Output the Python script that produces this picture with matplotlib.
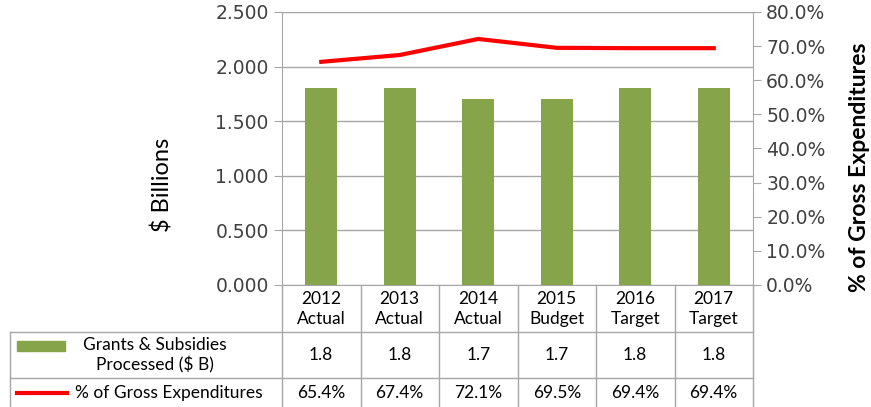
import numpy as np
import matplotlib.pyplot as plt
from matplotlib.lines import Line2D
from matplotlib.patches import Rectangle
from matplotlib.ticker import FuncFormatter, MultipleLocator
from matplotlib.transforms import blended_transform_factory

# data
years = ['2012', '2013', '2014', '2015', '2016', '2017']
kinds = ['Actual', 'Actual', 'Actual', 'Budget', 'Target', 'Target']
grants = [1.8, 1.8, 1.7, 1.7, 1.8, 1.8]
pct_gross = [65.4, 67.4, 72.1, 69.5, 69.4, 69.4]
row_labels = ['Grants & Subsidies\nProcessed ($ B)', '% of Gross Expenditures']

bar_col = '#86a44a'
line_col = '#ff0000'
grid_col = '#a6a6a6'
narrow = ['Lato', 'DejaVu Sans']

W, H = 871, 407
fig = plt.figure(figsize=(W / 100, H / 100), dpi=100)
ax = fig.add_axes([282 / W, 1 - 285 / H, (753 - 282) / W, (285 - 12) / H])

x = np.arange(len(years))
ax.bar(x, grants, width=0.41, color=bar_col, zorder=2)
ax.set_xlim(-0.5, len(years) - 0.5)
ax.set_ylim(0, 2.5)
ax.yaxis.set_major_locator(MultipleLocator(0.5))
ax.yaxis.set_major_formatter(FuncFormatter(lambda v, p: '%.3f' % v))
ax.set_xticks([])
ax.grid(axis='y', color=grid_col, lw=1, zorder=0)
for s in ax.spines.values():
    s.set_color(grid_col)
ax.tick_params(axis='y', colors=grid_col, labelcolor='#404040', labelsize=13.5, length=6)
ax.set_ylabel('$ Billions', fontsize=17, family=narrow, color='black')
ax.yaxis.set_label_coords(-0.23, 0.366)

ax2 = ax.twinx()
ax2.plot(x, pct_gross, color=line_col, lw=3, zorder=3)
ax2.set_ylim(0, 80)
ax2.yaxis.set_major_locator(MultipleLocator(10))
ax2.yaxis.set_major_formatter(FuncFormatter(lambda v, p: '%.1f%%' % v))
for s in ax2.spines.values():
    s.set_visible(False)
ax2.tick_params(axis='y', colors=grid_col, labelcolor='#404040', labelsize=13.5, length=6)
ax2.set_ylabel('% of Gross Expenditures', fontsize=16.5, family=narrow, weight='bold',
               color='black')
ax2.yaxis.set_label_coords(1.203, 0.432)

# data table under the plot
tr = blended_transform_factory(ax.transData, fig.transFigure)
ftr = fig.transFigure

def fy(py):
    return 1 - py / H

lc = dict(color=grid_col, lw=1)
edges = np.arange(len(years) + 1) - 0.5
for e in edges:
    fig.add_artist(Line2D([e, e], [fy(285), fy(407)], transform=tr, **lc))
for py in [332, 378]:
    fig.add_artist(Line2D([10 / W, 753 / W], [fy(py), fy(py)], transform=ftr, **lc))
fig.add_artist(Line2D([10 / W, 10 / W], [fy(332), fy(407)], transform=ftr, **lc))

for i in range(len(years)):
    fig.text(x[i], fy(309), years[i] + '\n' + kinds[i], transform=tr, ha='center',
             va='center', fontsize=12.5, family=narrow, linespacing=1.25)
    fig.text(x[i], fy(355), '%.1f' % grants[i], transform=tr, ha='center',
             va='center', fontsize=12.5, family=narrow)
    fig.text(x[i], fy(393), '%.1f%%' % pct_gross[i], transform=tr, ha='center',
             va='center', fontsize=12.5, family=narrow)

fig.add_artist(Rectangle((17 / W, fy(351)), 48 / W, 10 / H, transform=ftr,
                         color=bar_col))
fig.add_artist(Line2D([17 / W, 67 / W], [fy(393), fy(393)], transform=ftr,
                      color=line_col, lw=3))
fig.text(155 / W, fy(355), row_labels[0], transform=ftr, ha='center', va='center',
         fontsize=12.5, family=narrow, linespacing=1.25)
fig.text(75 / W, fy(393), row_labels[1], transform=ftr, ha='left', va='center',
         fontsize=12.5, family=narrow)

fig.savefig('out.png', dpi=100)
